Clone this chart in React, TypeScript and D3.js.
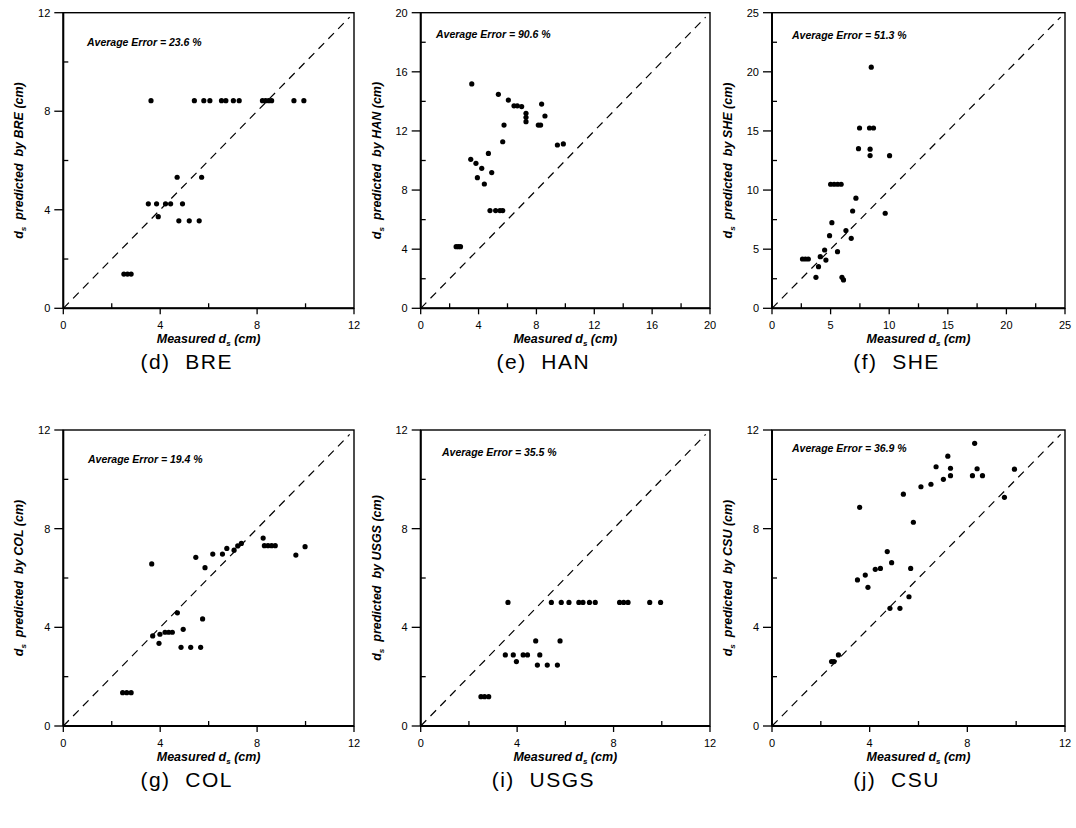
import React from 'react';
import * as d3 from 'd3';

// ---------- data (measured d_s vs predicted d_s, cm) ----------
const breX = [3.62, 5.41, 5.8, 6.05, 6.53, 6.71, 7.02, 7.26, 8.22, 8.35, 8.48, 8.6, 9.52, 9.93, 4.7, 5.71, 3.51, 3.85, 4.22, 4.43, 4.92, 3.92, 4.77, 5.2, 5.61, 2.5, 2.65, 2.8];
const breY = [8.43, 8.43, 8.43, 8.43, 8.43, 8.43, 8.43, 8.43, 8.43, 8.43, 8.43, 8.43, 8.43, 8.43, 5.32, 5.32, 4.24, 4.24, 4.24, 4.24, 4.24, 3.72, 3.55, 3.55, 3.55, 1.39, 1.39, 1.39];

const hanX = [3.53, 5.37, 6.06, 6.45, 6.68, 6.98, 8.36, 7.28, 7.28, 7.28, 8.59, 5.76, 8.13, 8.29, 5.67, 9.45, 9.86, 3.46, 3.82, 4.22, 4.68, 4.91, 3.92, 4.4, 4.79, 5.18, 5.48, 5.67, 2.45, 2.6, 2.75];
const hanY = [15.18, 14.48, 14.09, 13.7, 13.7, 13.65, 13.82, 13.19, 12.92, 12.63, 13.01, 12.4, 12.4, 12.4, 11.27, 11.05, 11.12, 10.08, 9.81, 9.47, 10.48, 9.18, 8.84, 8.41, 6.61, 6.61, 6.61, 6.61, 4.17, 4.17, 4.17];

const sheX = [8.47, 7.47, 8.32, 8.66, 7.38, 8.37, 8.37, 10.03, 5.0, 5.3, 5.6, 5.9, 7.16, 6.88, 9.66, 5.11, 4.91, 6.31, 6.76, 4.49, 5.59, 2.6, 2.85, 3.1, 4.12, 4.6, 3.97, 3.75, 5.97, 6.1];
const sheY = [20.39, 15.25, 15.25, 15.25, 13.5, 13.46, 12.92, 12.91, 10.49, 10.49, 10.49, 10.49, 9.31, 8.23, 8.04, 7.24, 6.14, 6.57, 5.92, 4.93, 4.79, 4.17, 4.17, 4.17, 4.37, 4.08, 3.52, 2.62, 2.62, 2.4];

const colX = [3.65, 5.47, 5.85, 6.17, 6.57, 6.75, 7.05, 7.2, 7.35, 8.3, 8.45, 8.6, 8.75, 8.25, 9.6, 9.98, 4.71, 5.75, 4.95, 3.69, 3.99, 4.2, 4.35, 4.5, 3.95, 4.86, 5.26, 5.67, 2.45, 2.62, 2.8];
const colY = [6.57, 6.84, 6.42, 6.97, 6.97, 7.2, 7.13, 7.3, 7.4, 7.31, 7.31, 7.31, 7.31, 7.62, 6.93, 7.27, 4.59, 4.34, 3.92, 3.65, 3.72, 3.8, 3.8, 3.8, 3.35, 3.19, 3.19, 3.19, 1.35, 1.35, 1.35];

const usgsX = [3.62, 5.42, 5.83, 6.15, 6.56, 6.73, 7.0, 7.24, 8.25, 8.42, 8.6, 9.5, 9.95, 4.77, 5.78, 3.51, 3.84, 4.25, 4.43, 4.94, 3.97, 4.84, 5.25, 5.67, 2.5, 2.65, 2.82];
const usgsY = [5.01, 5.01, 5.01, 5.01, 5.01, 5.01, 5.01, 5.01, 5.01, 5.01, 5.01, 5.01, 5.01, 3.45, 3.45, 2.88, 2.88, 2.88, 2.88, 2.88, 2.61, 2.47, 2.47, 2.47, 1.19, 1.19, 1.19];

const csuX = [8.3, 7.2, 6.72, 7.31, 8.4, 9.93, 7.02, 7.31, 8.21, 8.62, 6.51, 6.1, 5.38, 9.52, 3.59, 5.79, 4.72, 4.9, 4.23, 4.44, 5.68, 3.82, 3.5, 3.93, 5.61, 4.83, 5.24, 2.44, 2.54, 2.72];
const csuY = [11.46, 10.94, 10.51, 10.45, 10.43, 10.41, 10.0, 10.15, 10.15, 10.15, 9.8, 9.7, 9.4, 9.27, 8.86, 8.26, 7.07, 6.62, 6.35, 6.39, 6.39, 6.12, 5.92, 5.62, 5.24, 4.77, 4.77, 2.61, 2.61, 2.88];

const ticks12 = [0, 4, 8, 12];
const minor12 = [2, 6, 10];
const ticks20 = [0, 4, 8, 12, 16, 20];
const minor20 = [2, 6, 10, 14, 18];
const ticks25 = [0, 5, 10, 15, 20, 25];
const minor25 = [2.5, 7.5, 12.5, 17.5, 22.5];

const models = ['BRE', 'HAN', 'SHE', 'COL', 'USGS', 'CSU'];
const captions = ['(d)  BRE', '(e)  HAN', '(f)  SHE', '(g)  COL', '(i)  USGS', '(j)  CSU'];
const errors = ['Average Error = 23.6 %', 'Average Error = 90.6 %', 'Average Error = 51.3 %', 'Average Error = 19.4 %', 'Average Error = 35.5 %', 'Average Error = 36.9 %'];

// ---------- layout ----------
const colsLR = [[63.3, 354], [420.7, 710], [772, 1065]];
const rowsTB = [[12.7, 308.3], [430, 726]];
const errPos = [[87, 46], [436, 38], [792, 39], [88, 463], [442, 456], [792, 452]];

const FONT = "Arial, 'Liberation Sans', Helvetica, sans-serif";

type PanelDef = {
  xs: number[]; ys: number[]; max: number; ticks: number[]; minor: number[];
  col: number; row: number; model: string; caption: string; err: string; errAt: number[];
};

const panels: PanelDef[] = [
  { xs: breX, ys: breY, max: 12, ticks: ticks12, minor: minor12 },
  { xs: hanX, ys: hanY, max: 20, ticks: ticks20, minor: minor20 },
  { xs: sheX, ys: sheY, max: 25, ticks: ticks25, minor: minor25 },
  { xs: colX, ys: colY, max: 12, ticks: ticks12, minor: minor12 },
  { xs: usgsX, ys: usgsY, max: 12, ticks: ticks12, minor: minor12 },
  { xs: csuX, ys: csuY, max: 12, ticks: ticks12, minor: minor12 },
].map((p, i) => ({
  ...p, col: i % 3, row: Math.floor(i / 3), model: models[i], caption: captions[i], err: errors[i], errAt: errPos[i],
}));

function Panel({ p }: { p: PanelDef }) {
  const [l, r] = colsLR[p.col];
  const [t, b] = rowsTB[p.row];
  const x = d3.scaleLinear().domain([0, p.max]).range([l, r]);
  const y = d3.scaleLinear().domain([0, p.max]).range([b, t]);
  const cx = (l + r) / 2;
  const cy = (t + b) / 2;
  const diag = d3.line<number>().x((v) => x(v)).y((v) => y(v));
  return (
    <g>
      {/* frame */}
      <rect x={l} y={t} width={r - l} height={b - t} fill="none" stroke="#000" strokeWidth={1.4} />
      <line x1={l} x2={l} y1={t} y2={b} stroke="#000" strokeWidth={2} />
      <line x1={l} x2={r} y1={b} y2={b} stroke="#000" strokeWidth={2} />
      {/* diagonal */}
      <path d={diag([0, p.max * 0.985]) || ''} stroke="#000" strokeWidth={1.2} strokeDasharray="8,6" fill="none" />
      {/* ticks */}
      {p.ticks.map((v) => (
        <g key={'y' + v}>
          <line x1={l - 9} x2={l} y1={y(v)} y2={y(v)} stroke="#000" strokeWidth={1.3} />
          <text x={l - 13} y={y(v) + 4} textAnchor="end" fontSize={11} fontFamily={FONT}>{v}</text>
        </g>
      ))}
      {p.minor.map((v) => (
        <line key={'ym' + v} x1={l} x2={l + 5} y1={y(v)} y2={y(v)} stroke="#000" strokeWidth={1.3} />
      ))}
      {p.ticks.map((v) => (
        <g key={'x' + v}>
          <line x1={x(v)} x2={x(v)} y1={b} y2={b + 6} stroke="#000" strokeWidth={1.3} />
          <text x={x(v)} y={b + 21} textAnchor="middle" fontSize={11} fontFamily={FONT}>{v}</text>
        </g>
      ))}
      {p.minor.map((v) => (
        <line key={'xm' + v} x1={x(v)} x2={x(v)} y1={b} y2={b - 5} stroke="#000" strokeWidth={1.3} />
      ))}
      {/* points */}
      {p.xs.map((v, i) => (
        <circle key={i} cx={x(v)} cy={y(p.ys[i])} r={2.6} fill="#000" />
      ))}
      {/* average error */}
      <text x={p.errAt[0]} y={p.errAt[1]} fontSize={10.5} fontWeight="bold" fontStyle="italic" fontFamily={FONT}>{p.err}</text>
      {/* axis titles */}
      <text x={cx} y={b + 35} textAnchor="middle" fontSize={12.5} fontWeight="bold" fontStyle="italic" fontFamily={FONT}>
        Measured d<tspan fontSize={8} dy={3}>s</tspan><tspan dy={-3}> (cm)</tspan>
      </text>
      <text transform={`translate(${l - 40},${cy}) rotate(-90)`} textAnchor="middle" fontSize={12.5} fontWeight="bold" fontStyle="italic" fontFamily={FONT} style={{ whiteSpace: 'pre' }}>
        d<tspan fontSize={8} dy={3}>s</tspan><tspan dy={-3}>{'  predicted  by ' + p.model + ' (cm)'}</tspan>
      </text>
      {/* caption */}
      <text x={cx - 22} y={b + 61} textAnchor="middle" fontSize={21} letterSpacing={1.5} fontFamily={FONT} style={{ whiteSpace: 'pre' }}>{p.caption}</text>
    </g>
  );
}

export default function App() {
  return (
    <svg width={1076} height={828} style={{ position: 'absolute', left: 0, top: 0, background: '#fff' }}>
      <rect width={1076} height={828} fill="#fff" />
      {panels.map((p, i) => <Panel key={i} p={p} />)}
    </svg>
  );
}
